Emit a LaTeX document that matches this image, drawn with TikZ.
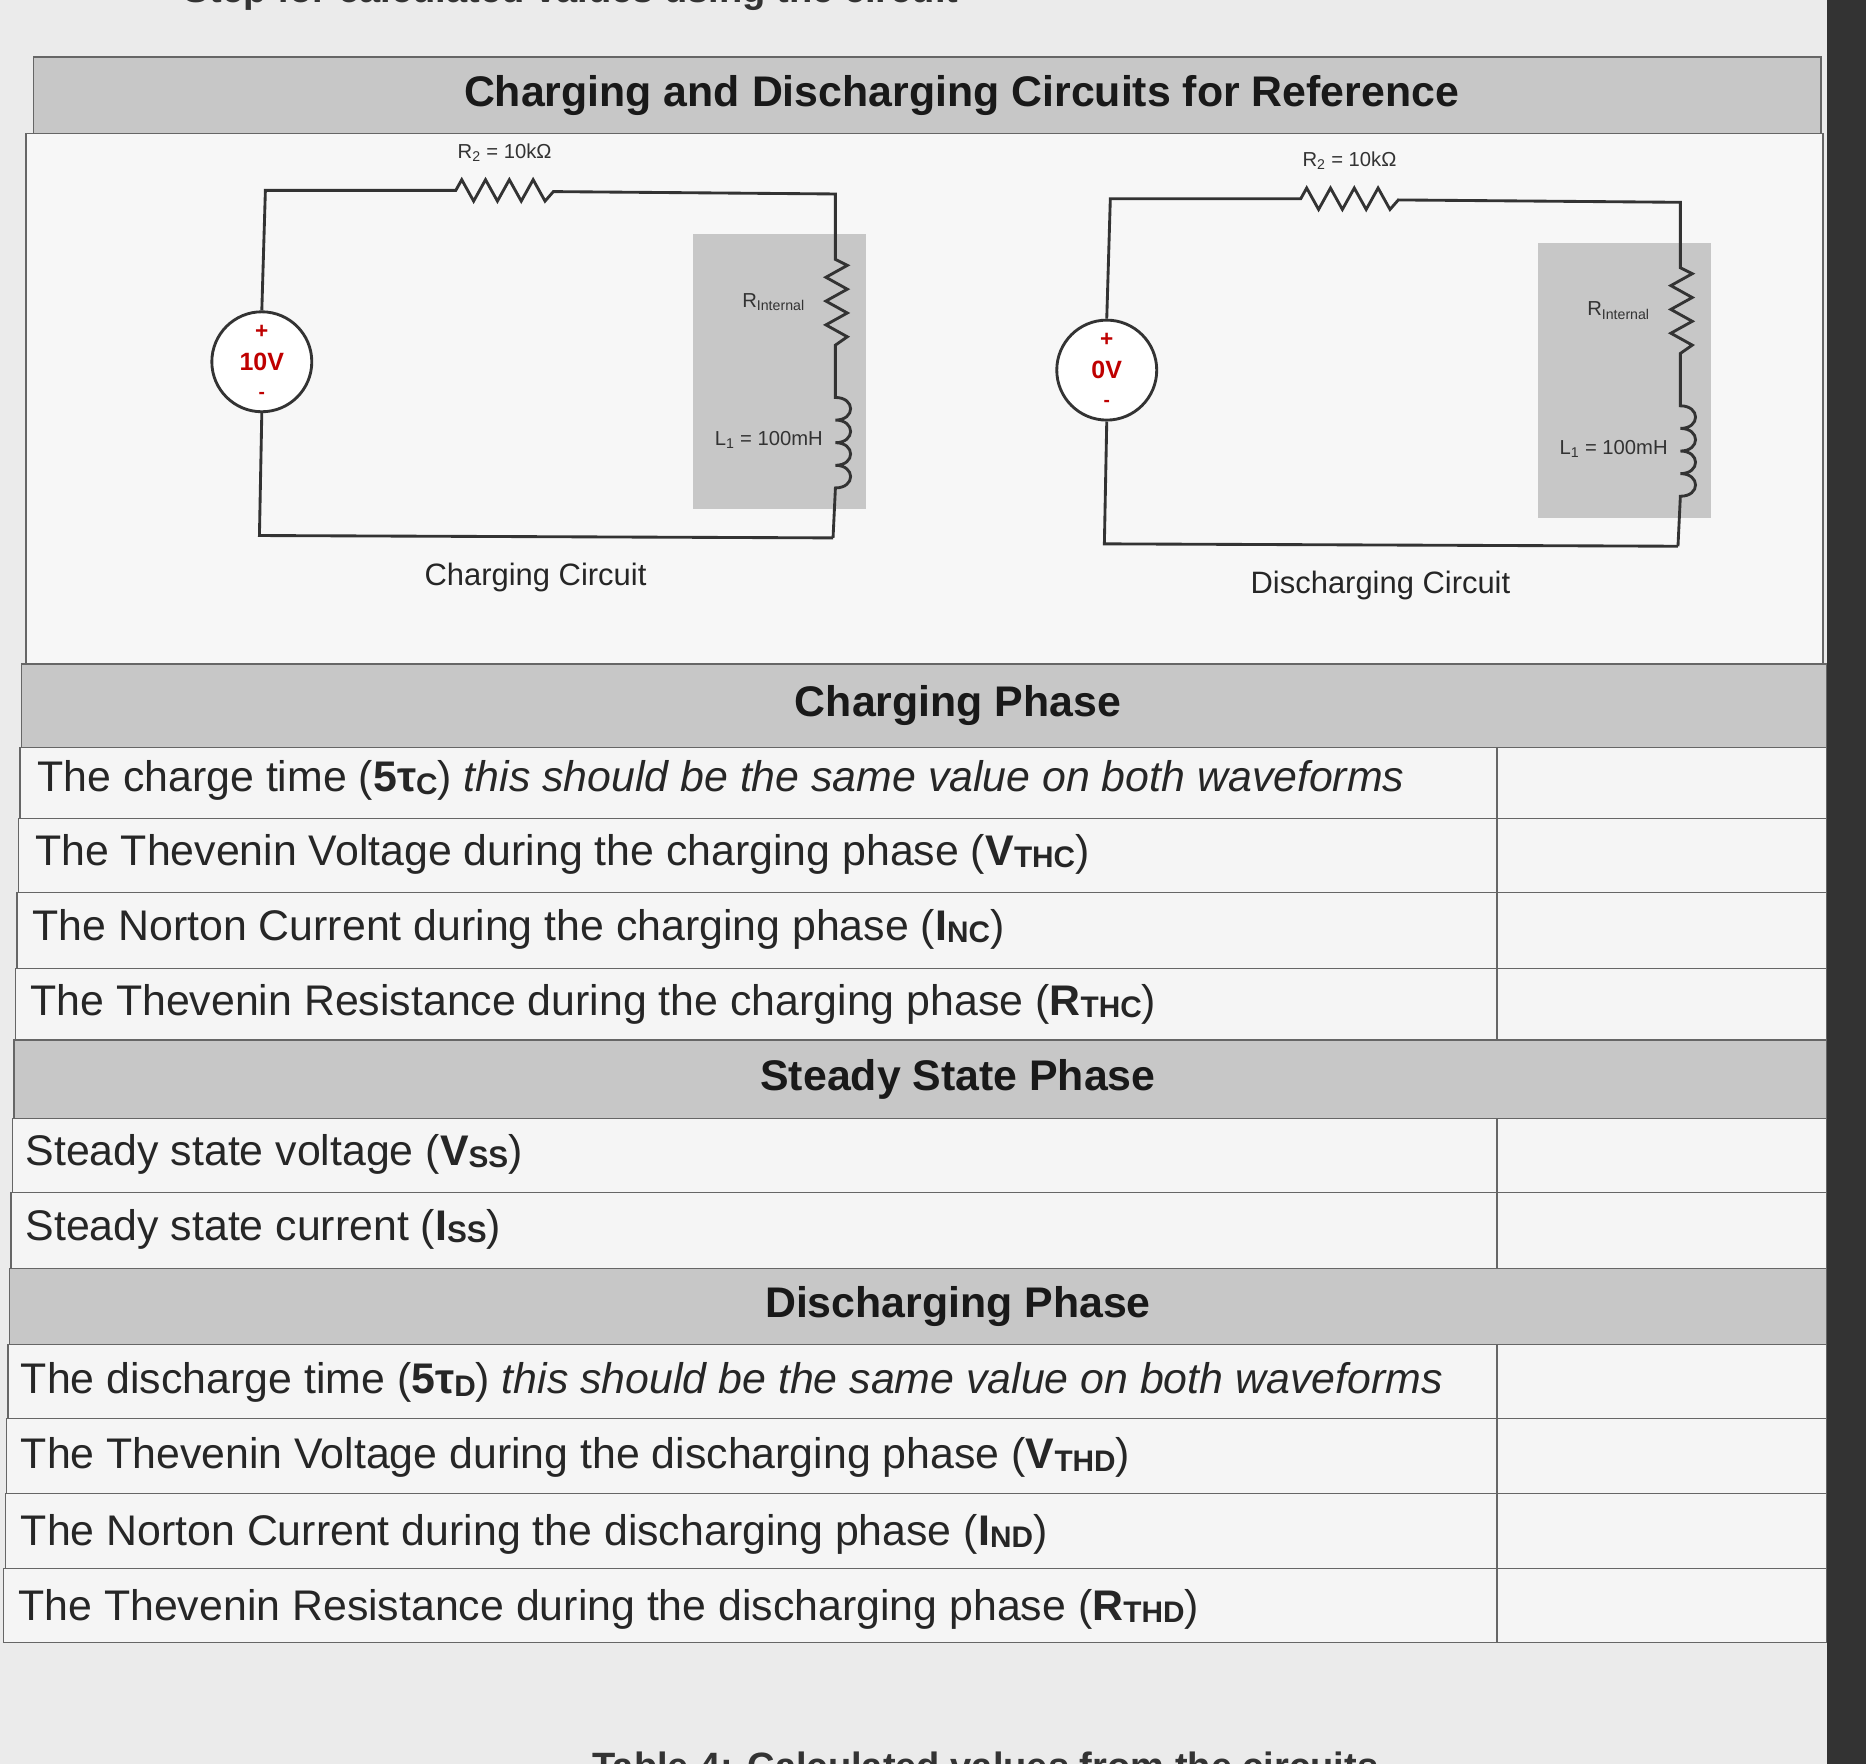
\documentclass[tikz,border=0pt]{standalone}
\usepackage{fontspec}
\setmainfont{Liberation Sans}
\begin{document}
\begin{tikzpicture}[x=1pt,y=-1pt,
  hdr/.style={fill=black!22,draw=black!60,line width=1.2pt},
  rowbox/.style={fill=black!4,draw=black!60,line width=1.2pt},
  rowtxt/.style={anchor=west,font=\fontsize{36}{39}\selectfont,text=black!85},
  hdrtxt/.style={font=\fontsize{36}{40}\selectfont\bfseries,text=black!90},
  wire/.style={line width=2.4pt,black!80},
  small/.style={font=\fontsize{17}{19}\selectfont,text=black!80},
  src/.style={circle,draw=black!80,line width=2.4pt,fill=white,minimum size=84pt,inner sep=0pt}]
\newcommand\subb[1]{\raisebox{-2pt}{\fontsize{25}{26}\selectfont #1}}
\useasboundingbox (0,0) rectangle (1568,1482);
\fill[black!8] (0,0) rectangle (1568,1482);
\fill[black!80] (1535,0) rectangle (1568,1482);
\node[font=\fontsize{32}{34}\selectfont\bfseries,text=black!80] (toptitle) at (480,-6) {Step for calculated values using the circuit};
\node[font=\fontsize{32}{34}\selectfont\bfseries,text=black!80] (bottitle) at (828,1484) {Table 4: Calculated values from the circuits};
% circuit panel
\draw[fill=black!3,draw=black!60,line width=1.2pt] (22,112) rectangle (1532,558);
\draw[hdr] (28,48) rectangle (1530,112);
\node[hdrtxt] (h0) at (808,80) {Charging and Discharging Circuits for Reference};
% rows
\foreach \y/\h/\t in {
 558/628/Charging Phase,
 874/940/Steady State Phase,
 1066/1130/Discharging Phase}{
 \pgfmathsetmacro\lx{28-(\y-48)/1330*26}
 \draw[hdr] (\lx,\y) rectangle (1535,\h);
 \node[hdrtxt] at (805,{(\y+\h)/2}) {\t};
}
\foreach \y/\h in {628/688,688/750,750/814,814/874,940/1002,1002/1066,1130/1192,1192/1255,1255/1318,1318/1380}{
 \pgfmathsetmacro\lx{28-(\y-48)/1330*26}
 \draw[rowbox] (\lx,\y) rectangle (1258,\h);
 \draw[rowbox] (1258,\y) rectangle (1535,\h);
}
\node[rowtxt] (r1) at (28,656) {The charge time ({\bfseries 5τ\subb{C}}) \textit{this should be the same value on both waveforms}};
\node[rowtxt] (r2) at (26,718) {The Thevenin Voltage during the charging phase ({\bfseries V\subb{THC}})};
\node[rowtxt] (r3) at (24,781) {The Norton Current during the charging phase ({\bfseries I\subb{NC}})};
\node[rowtxt] (r4) at (22,844) {The Thevenin Resistance during the charging phase ({\bfseries R\subb{THC}})};
\node[rowtxt] (r5) at (18,970) {Steady state voltage ({\bfseries V\subb{SS}})};
\node[rowtxt] (r6) at (18,1033) {Steady state current ({\bfseries I\subb{SS}})};
\node[rowtxt] (r7) at (14,1162) {The discharge time ({\bfseries 5τ\subb{D}}) \textit{this should be the same value on both waveforms}};
\node[rowtxt] (r8) at (14,1225) {The Thevenin Voltage during the discharging phase ({\bfseries V\subb{THD}})};
\node[rowtxt] (r9) at (14,1289) {The Norton Current during the discharging phase ({\bfseries I\subb{ND}})};
\node[rowtxt] (r10) at (12,1352) {The Thevenin Resistance during the discharging phase ({\bfseries R\subb{THD}})};
% circuits
\foreach \dx/\dy/\v/\nm/\lab in {0/0/10V/Charging Circuit/a, 710/7/0V/Discharging Circuit/b}{
\begin{scope}[shift={(\dx,\dy)}]
 \fill[black!22] (582,197) rectangle (728,428);
 \node[src] (s\lab) at (220,304) {};
 \node[text=red!75!black,font=\fontsize{21}{23}\selectfont\bfseries] at (220,304) {\v};
 \node[text=red!75!black,font=\fontsize{19}{21}\selectfont\bfseries] at (220,279) {+};
 \node[text=red!75!black,font=\fontsize{16}{18}\selectfont\bfseries] at (220,332) {-};
 \coordinate (tl\lab) at (223,160);
 \coordinate (tr\lab) at (702,163);
 \coordinate (bl\lab) at (218,450);
 \coordinate (br\lab) at (700,452);
 \draw[wire] (s\lab.north) -- (tl\lab) -- (383,160)
   -- (388,151) -- (398,169) -- (408,151) -- (418,169) -- (428,151) -- (438,169) -- (448,151) -- (458,169) -- (465,161) -- (tr\lab)
   -- (702,218) -- (712,223) -- (694,233) -- (712,243) -- (694,253) -- (712,263) -- (694,273) -- (712,283) -- (702,290)
   -- (702,334) .. controls +(17,0) and +(17,0) .. ++(0,19) .. controls +(17,0) and +(17,0) .. ++(0,19)
   .. controls +(17,0) and +(17,0) .. ++(0,19) .. controls +(17,0) and +(17,0) .. ++(0,19) -- (br\lab);
 \draw[wire] (br\lab) -- (bl\lab) -- (s\lab.south);
 \node[small] at (424,128) {R\textsubscript{2} = 10kΩ};
 \node[small] at (650,254) {R\textsubscript{Internal}};
 \node[small] at (646,370) {L\textsubscript{1} = 100mH};
 \node[font=\fontsize{26}{29}\selectfont,text=black!85] at (450,485) {\nm};
\end{scope}}
\end{tikzpicture}
\end{document}
